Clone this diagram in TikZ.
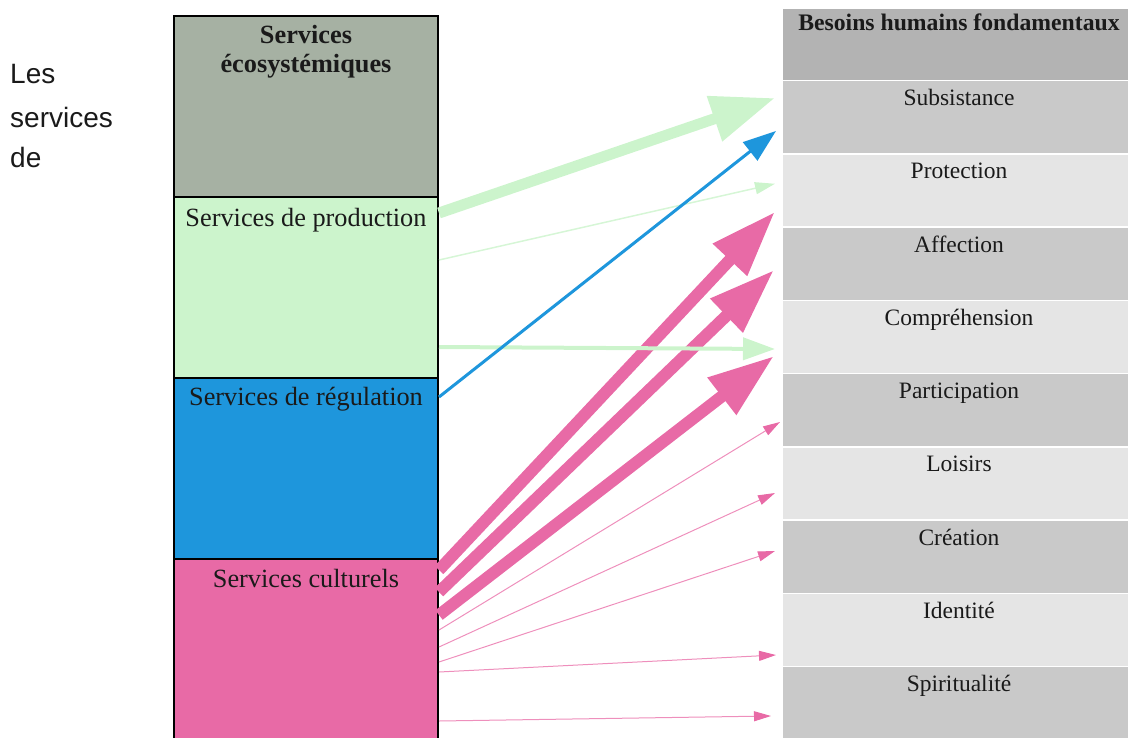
\documentclass[tikz,border=0pt]{standalone}
\usepackage{fontspec}
\setmainfont{Liberation Serif}
\newfontfamily\lsans{Liberation Sans}
\usetikzlibrary{arrows.meta,calc}
\definecolor{ecogrey}{HTML}{A6B1A3}
\definecolor{prodgreen}{HTML}{CCF4CC}
\definecolor{regblue}{HTML}{1E96DC}
\definecolor{cultpink}{HTML}{E86AA6}
\definecolor{hdrgrey}{HTML}{B3B3B3}
\definecolor{rowdark}{HTML}{C9C9C9}
\definecolor{rowlight}{HTML}{E5E5E5}
\definecolor{txt}{HTML}{1A1A1A}
\begin{document}
\begin{tikzpicture}[x=1pt,y=-1pt,
  leftbox/.style={rectangle, draw=black, line width=1.2pt, minimum width=264pt, minimum height=181pt, inner sep=0pt, outer sep=0pt, anchor=north west},
  rowbox/.style={rectangle, draw=white, line width=1.5pt, minimum width=354pt, minimum height=73.25pt, inner sep=0pt, outer sep=0pt, anchor=north west},
  boxtext/.style={font=\fontsize{26.3}{30}\selectfont, anchor=base, inner sep=0pt, text=txt},
  boxbold/.style={font=\fontsize{26.3}{30}\selectfont\bfseries, anchor=base, inner sep=0pt, text=txt},
  rowtext/.style={font=\fontsize{23.5}{27}\selectfont, anchor=base, inner sep=0pt, text=txt},
  hdrtext/.style={font=\fontsize{23.7}{27}\selectfont\bfseries, anchor=base, inner sep=0pt, text=txt},
  sidetext/.style={font=\lsans\fontsize{28}{34}\selectfont, anchor=base west, inner sep=0pt, text=txt},
  bigpink/.style={draw=cultpink, line width=12pt, -{Triangle[length=66pt,width=44pt]}},
  thinpink/.style={draw=cultpink!75!white, line width=1pt, -{Triangle[length=17pt,width=10pt,color=cultpink]}},
  biggreen/.style={draw=prodgreen, line width=11pt, -{Triangle[length=64pt,width=45pt]}},
  medgreen/.style={draw=prodgreen, line width=4pt, -{Triangle[length=32pt,width=22pt]}},
  thingreen/.style={draw=prodgreen!80!white, line width=1.5pt, -{Triangle[length=20pt,width=12pt,color=prodgreen]}},
  bluearrow/.style={draw=regblue, line width=3pt, -{Triangle[length=33pt,width=23pt]}}
]
\useasboundingbox (0,0) rectangle (1128,737);

% left text
\node[sidetext] (les1) at (10,83) {Les};
\node[sidetext] (les2) at (10,127) {services};
\node[sidetext] (les3) at (10,167) {de};

% left column
\node[leftbox, fill=ecogrey] (eco) at (174,16) {};
\node[leftbox, fill=prodgreen] (prod) at (174,197) {};
\node[leftbox, fill=regblue] (reg) at (174,378) {};
\node[leftbox, fill=cultpink] (cult) at (174,559) {};
\node[boxbold] (ecot1) at ($(eco.north)+(0,27)$) {Services};
\node[boxbold] (ecot2) at ($(eco.north)+(0,56)$) {écosystémiques};
\node[boxtext] (prodt) at ($(prod.north)+(0,29)$) {Services de production};
\node[boxtext] (regt) at ($(reg.north)+(0,27)$) {Services de régulation};
\node[boxtext] (cultt) at ($(cult.north)+(0,28)$) {Services culturels};

% right table
\node[rowbox, fill=hdrgrey, minimum height=72.5pt] (hdr) at (782,8) {};
\node[hdrtext] (hdrt) at ($(hdr.north)+(0,22)$) {Besoins humains fondamentaux};
\foreach \i/\nm/\txtc/\col in {0/subs/Subsistance/rowdark, 1/prot/Protection/rowlight, 2/aff/Affection/rowdark, 3/comp/Compréhension/rowlight, 4/part/Participation/rowdark, 5/lois/Loisirs/rowlight, 6/crea/Création/rowdark, 7/iden/Identité/rowlight, 8/spir/Spiritualité/rowdark}{
  \node[rowbox, fill=\col] (\nm) at (782,{80.5+73.25*\i}) {};
  \node[rowtext] (\nm t) at ($(\nm.north)+(0,25)$) {\txtc};
}

% arrows from cultural services
\draw[bigpink] ($(cult.north east)+(1,11)$) -- ($(prot.north west)+(-7,58)$);
\draw[bigpink] ($(cult.north east)+(1,33)$) -- ($(aff.north west)+(-8,43)$);
\draw[bigpink] ($(cult.north east)+(1,56)$) -- ($(comp.north west)+(-8,55.75)$);
\draw[thinpink] ($(cult.north east)+(1,71)$) -- ($(part.north west)+(-2,48.5)$);
\draw[thinpink] ($(cult.north east)+(1,88)$) -- ($(lois.north west)+(-7,46.25)$);
\draw[thinpink] ($(cult.north east)+(1,103)$) -- ($(crea.north west)+(-7,31)$);
\draw[thinpink] ($(cult.north east)+(1,113)$) -- ($(iden.north west)+(-6,61.75)$);
\draw[thinpink] ($(cult.north east)+(1,162)$) -- ($(spir.north west)+(-11,49.5)$);

% arrows from production services
\draw[biggreen] ($(prod.north east)+(1,16)$) -- ($(subs.north west)+(-7,17.5)$);
\draw[thingreen] ($(prod.north east)+(1,63)$) -- ($(prot.north west)+(-7,30)$);
\draw[medgreen] ($(prod.north east)+(1,150)$) -- ($(comp.north west)+(-7,48.75)$);

% arrow from regulation services
\draw[bluearrow] ($(reg.north east)+(1,19)$) -- ($(subs.north west)+(-6,50.5)$);
\end{tikzpicture}
\end{document}
